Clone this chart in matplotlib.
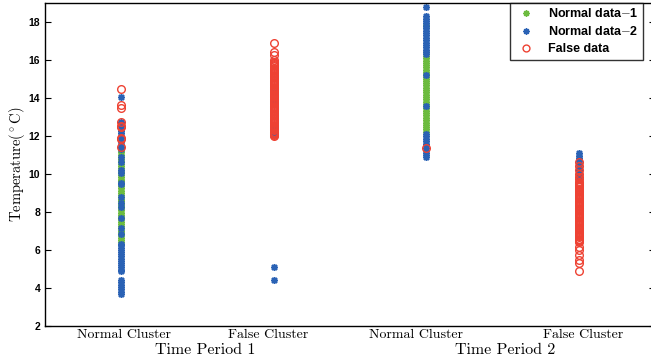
import matplotlib.pyplot as plt

# x positions of the four clusters
positions = [1, 2, 3, 4]
tick_pos = [1.02, 1.96, 2.93, 4.03]
tick_labels = ['Normal Cluster', 'False Cluster', 'Normal Cluster', 'False Cluster']
period_pos = [1.55, 3.52]
period_labels = ['Time Period 1', 'Time Period 2']

# Normal data-1 (one list per cluster)
normal1 = [
    [6.42, 6.55, 6.63, 6.78, 6.9, 7.02, 7.15, 7.24, 7.38, 7.5, 7.61, 7.73, 7.86, 7.95,
     8.08, 8.2, 8.31, 8.44, 8.56, 8.65, 8.79, 8.9, 9.02, 9.13, 9.27, 9.36, 9.5, 9.62,
     9.71, 9.85, 9.96, 10.08, 10.2, 10.31, 10.42, 10.55, 10.66, 10.79, 10.9, 11.02,
     11.14, 11.25, 11.36],
    [],
    [12.22, 12.35, 12.47, 12.6, 12.71, 12.83, 12.96, 13.08, 13.2, 13.31, 13.45, 13.56,
     13.68, 13.8, 13.93, 14.05, 14.17, 14.3, 14.41, 14.53, 14.66, 14.77, 14.9, 15.02,
     15.13, 15.26, 15.38, 15.5, 15.61, 15.74, 15.86, 15.97, 16.1, 16.22, 16.44, 17.84],
    [],
]

# Normal data-2
normal2 = [
    [3.68, 3.8, 3.93, 4.05, 4.18, 4.32, 4.42, 4.88, 4.97, 5.08, 5.2, 5.31, 5.43, 5.55,
     5.66, 5.78, 5.9, 6.02, 6.13, 6.25, 6.34, 6.84, 7.14, 7.7, 8.24, 8.47, 8.8, 9.5,
     9.55, 10.04, 10.2, 10.65, 10.9, 11.3, 11.42, 11.55, 11.66, 11.78, 11.9, 12.02,
     12.15, 12.27, 12.4, 12.52, 12.66, 12.72, 14.05],
    [4.42, 5.12, 12.05, 12.15, 12.26, 12.36, 12.48, 13.9, 14.3],
    [10.92, 11.0, 11.12, 11.24, 11.36, 11.48, 11.6, 11.72, 11.85, 11.98, 12.1, 13.6,
     15.2, 16.3, 16.42, 16.55, 16.68, 16.8, 16.92, 17.05, 17.18, 17.3, 17.42, 17.55,
     17.68, 17.8, 17.93, 18.05, 18.18, 18.3, 18.78],
    [9.7, 9.82, 9.95, 10.07, 10.2, 10.32, 10.45, 10.57, 10.7, 10.82, 10.95, 11.08],
]

# False data
false_data = [
    [11.4, 11.85, 11.92, 12.45, 12.55, 12.72, 13.45, 13.65, 14.5],
    [11.98, 12.04, 12.1, 12.16, 12.22, 12.29, 12.35, 12.41, 12.47, 12.54, 12.6, 12.66,
     12.72, 12.79, 12.85, 12.91, 12.97, 13.04, 13.1, 13.16, 13.22, 13.29, 13.35, 13.41,
     13.47, 13.54, 13.6, 13.66, 13.72, 13.79, 13.85, 13.91, 13.97, 14.04, 14.1, 14.16,
     14.22, 14.29, 14.35, 14.41, 14.47, 14.54, 14.6, 14.66, 14.72, 14.79, 14.85, 14.91,
     14.97, 15.04, 15.1, 15.16, 15.22, 15.29, 15.35, 15.41, 15.47, 15.54, 15.6, 15.66,
     15.72, 15.79, 15.85, 15.92, 16.0, 16.26, 16.44, 16.88],
    [11.35],
    [4.87, 5.3, 5.5, 5.72, 6.0, 6.17, 6.42, 6.47, 6.53, 6.6, 6.66, 6.72, 6.79, 6.85,
     6.91, 6.97, 7.04, 7.1, 7.16, 7.22, 7.29, 7.35, 7.41, 7.47, 7.54, 7.6, 7.66, 7.72,
     7.79, 7.85, 7.91, 7.97, 8.04, 8.1, 8.16, 8.22, 8.29, 8.35, 8.41, 8.47, 8.54, 8.6,
     8.66, 8.72, 8.79, 8.85, 8.91, 8.97, 9.04, 9.1, 9.16, 9.22, 9.29, 9.35, 9.41, 9.48,
     9.54, 9.6, 9.72, 9.85, 10.0, 10.2, 10.4, 10.65],
]

c_green = '#6cbb3f'
c_blue = '#2a62b5'
c_red = '#ee4233'

# asterisk marker: 8 spokes
asterisk = (8, 2, 0)

plt.rcParams['mathtext.fontset'] = 'cm'

fig = plt.figure(figsize=(6.51, 3.62), dpi=100)
ax = fig.add_axes([45 / 651, 36 / 362, 610 / 651, 323 / 362])


def flatten(groups):
    xs, ys = [], []
    for x, vals in zip(positions, groups):
        xs += [x] * len(vals)
        ys += vals
    return xs, ys


x1, y1 = flatten(normal1)
x2, y2 = flatten(normal2)
x3, y3 = flatten(false_data)

ax.plot(x1, y1, linestyle='none', marker=asterisk, color=c_green, markersize=5,
        markeredgewidth=1.1, label='Normal data$-$1')
ax.plot(x2, y2, linestyle='none', marker=asterisk, color=c_blue, markersize=5,
        markeredgewidth=1.1, label='Normal data$-$2')
ax.plot(x3, y3, 'o', markerfacecolor='none', markeredgecolor=c_red,
        markersize=5.5, markeredgewidth=1.0, label='False data')

ax.set_xlim(0.5, 4.5)
ax.set_ylim(2, 19)
ax.set_yticks([2, 4, 6, 8, 10, 12, 14, 16, 18])
ax.tick_params(axis='y', direction='in', length=4, right=True, labelsize=7.5)
for lab in ax.get_yticklabels():
    lab.set_fontfamily('Liberation Sans')
    lab.set_fontweight('bold')
ax.set_xticks(tick_pos)
ax.set_xticklabels(tick_labels, fontfamily='cmr10', fontsize=10)
ax.tick_params(axis='x', length=0, pad=2)
for p, lab in zip(period_pos, period_labels):
    ax.text(p, -0.055, lab, transform=ax.get_xaxis_transform(), ha='center',
            va='top', fontfamily='cmr10', fontsize=11.5)

ax.set_ylabel(r'Temperature$(^\circ$C$)$', fontfamily='cmr10', fontsize=10.5, labelpad=1)

for s in ax.spines.values():
    s.set_linewidth(1.0)

leg = ax.legend(loc='upper right', bbox_to_anchor=((643 - 45) / 610, 1.0),
                frameon=True, fancybox=False, edgecolor='black', borderaxespad=0,
                prop={'family': 'Liberation Sans', 'weight': 'bold', 'size': 9},
                handletextpad=0.9, labelspacing=0.4, borderpad=0.35,
                handlelength=1.8, markerscale=0.9)
leg.get_frame().set_linewidth(1.0)

plt.savefig('out.png', dpi=100)
